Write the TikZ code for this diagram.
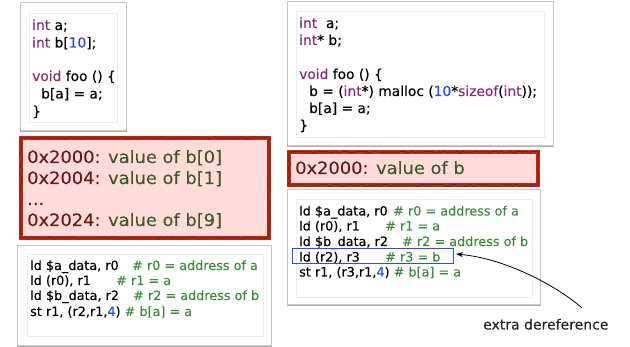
\documentclass[tikz,border=0pt]{standalone}
\usepackage{fontspec}
\setmainfont[FakeBold=0.3]{DejaVu Sans}
\newfontfamily\memfont[FakeStretch=1.05,FakeBold=0.3]{DejaVu Sans}
\usetikzlibrary{decorations.pathmorphing,arrows.meta}

\definecolor{kw}{HTML}{8E2A75}
\definecolor{num}{HTML}{2D46F5}
\definecolor{cmt}{HTML}{3C8C3C}
\definecolor{addr}{HTML}{6A1818}
\definecolor{val}{HTML}{3E5A2E}
\definecolor{redline}{HTML}{BE2810}
\definecolor{reddark}{HTML}{8C1A08}
\definecolor{redfill}{HTML}{FFDCDA}
\definecolor{boxline}{HTML}{C8C8C8}
\definecolor{boxshade}{HTML}{B0B0B0}
\definecolor{innerline}{HTML}{EDEDED}
\definecolor{hlblue}{HTML}{2F4BF0}

\tikzset{
  boxshadow/.style={draw=boxshade, line width=1pt, transform canvas={shift={(0.6pt,-0.8pt)}}},
  outerbox/.style={draw=boxline, line width=1pt, fill=white},
  innerbox/.style={draw=innerline, line width=0.6pt},
  membox/.style={draw=redline, line width=3.4pt, fill=redfill},
  rough/.style={draw=reddark, line width=0.8pt,
    decorate, decoration={random steps, segment length=1.5pt, amplitude=0.9pt}},
  codeA/.style={anchor=base west, inner sep=0pt, font=\fontsize{13.8}{16}\selectfont},
  codeB/.style={anchor=base west, inner sep=0pt, font=\fontsize{12.8}{15}\selectfont},
  memtext/.style={anchor=base west, inner sep=0pt, font=\memfont\fontsize{17}{19}\selectfont},
  hlbox/.style={draw=hlblue, line width=1pt},
  note/.style={anchor=base west, inner sep=0pt, font=\fontsize{14}{16}\selectfont, text=black!85},
  pointer/.style={draw=black, line width=0.8pt, -{Stealth[length=7pt,width=5pt]}}
}

\pgfmathsetseed{7}

\begin{document}
\begin{tikzpicture}[x=1pt, y=-1pt]
\useasboundingbox (0,0) rectangle (630,347);

% ---- array version: source ----
\draw[boxshadow] (20,3) rectangle (126,131);
\draw[outerbox] (20,3) rectangle (126,131);
\draw[innerbox] (29,13) rectangle (117,122);
\node[codeA] (la1) at (32,30)   {\textcolor{kw}{int} a;};
\node[codeA] (la2) at (32,47.5) {\textcolor{kw}{int} b[\textcolor{num}{10}];};
\node[codeA] (la3) at (32,81)   {\textcolor{kw}{void} foo () \{};
\node[codeA] (la4) at (41,98.5) {b[a] = a;};
\node[codeA] (la5) at (32,116)  {\}};

% ---- pointer version: source ----
\draw[boxshadow] (287,2) rectangle (553,146);
\draw[outerbox] (287,2) rectangle (553,146);
\draw[innerbox] (296,11) rectangle (544,137);
\node[codeA] (ra1) at (299,28)  {\textcolor{kw}{int}\ \ a;};
\node[codeA] (ra2) at (299,45)  {\textcolor{kw}{int}* b;};
\node[codeA] (ra3) at (299,79)  {\textcolor{kw}{void} foo () \{};
\node[codeA] (ra4) at (309,96)  {b = (\textcolor{kw}{int}*) malloc (\textcolor{num}{10}*\textcolor{kw}{sizeof}(\textcolor{kw}{int}));};
\node[codeA] (ra5) at (309,113) {b[a] = a;};
\node[codeA] (ra6) at (299,130) {\}};

% ---- memory layouts ----
\draw[membox] (21,138) rectangle (269,238);
\draw[rough] (21,138) rectangle (269,238);
\node[memtext] (m1) at (27,163) {\textcolor{addr}{0x2000:} \textcolor{val}{value of b[0]}};
\node[memtext] (m2) at (27,184) {\textcolor{addr}{0x2004:} \textcolor{val}{value of b[1]}};
\node[memtext] (m3) at (27,205) {\textcolor{addr}{...}};
\node[memtext] (m4) at (27,226) {\textcolor{addr}{0x2024:} \textcolor{val}{value of b[9]}};

\draw[membox] (289,152) rectangle (538,185);
\draw[rough] (289,152) rectangle (538,185);
\node[memtext] (m5) at (295,174) {\textcolor{addr}{0x2000:} \textcolor{val}{value of b}};

% ---- array version: assembly ----
\draw[boxshadow] (17,246) rectangle (271,346);
\draw[outerbox] (17,246) rectangle (271,346);
\draw[innerbox] (27,254) rectangle (263,336);
\node[codeB] (lb1) at (30,270) {ld \$a\_data, r0};
\node[codeB,text=cmt] (lc1) at (132,270) {\# r0 = address of a};
\node[codeB] (lb2) at (30,285) {ld (r0), r1};
\node[codeB,text=cmt] (lc2) at (116,285) {\# r1 = a};
\node[codeB] (lb3) at (30,300) {ld \$b\_data, r2};
\node[codeB,text=cmt] (lc3) at (133,300) {\# r2 = address of b};
\node[codeB] (lb4) at (30,316) {st r1, (r2,r1,\textcolor{num}{4}) \textcolor{cmt}{\# b[a] = a}};

% ---- pointer version: assembly ----
\draw[boxshadow] (287,190) rectangle (540,305);
\draw[outerbox] (287,190) rectangle (540,305);
\draw[innerbox] (296,199) rectangle (532,297);
\node[codeB] (rb1) at (299,215.5) {ld \$a\_data, r0};
\node[codeB,text=cmt] (rc1) at (393,215.5) {\# r0 = address of a};
\node[codeB] (rb2) at (299,230.5) {ld (r0), r1};
\node[codeB,text=cmt] (rc2) at (385,230.5) {\# r1 = a};
\node[codeB] (rb3) at (299,246) {ld \$b\_data, r2};
\node[codeB,text=cmt] (rc3) at (402,246) {\# r2 = address of b};
\node[codeB] (rb4) at (299,261.5) {ld (r2), r3};
\node[codeB,text=cmt] (rc4) at (385,261.5) {\# r3 = b};
\node[codeB] (rb5) at (299,276.5) {st r1, (r3,r1,\textcolor{num}{4}) \textcolor{cmt}{\# b[a] = a}};

% highlighted load and its note
\node[hlbox, inner sep=0pt, minimum width=161pt, minimum height=15pt, anchor=north west] (hl) at (292,248) {};
\node[note] (lbl) at (483,329.5) {extra dereference};
\coordinate (tail) at (582,308);
\draw[pointer] (tail) .. controls (562,290) and (510,259) .. ([xshift=2pt,yshift=2pt]hl.east);
\end{tikzpicture}
\end{document}
